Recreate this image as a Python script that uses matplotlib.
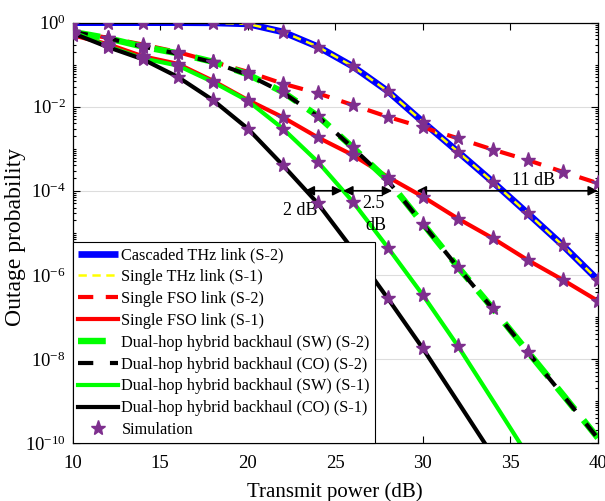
import numpy as np
import matplotlib
matplotlib.use("Agg")
import matplotlib.pyplot as plt
from matplotlib.ticker import FixedLocator, NullFormatter
from matplotlib.lines import Line2D

plt.rcParams['font.family'] = ['Liberation Serif', 'DejaVu Serif']
plt.rcParams['mathtext.fontset'] = 'custom'
plt.rcParams['mathtext.rm'] = 'Liberation Serif'
plt.rcParams['mathtext.it'] = 'Liberation Serif:italic'
plt.rcParams['lines.scale_dashes'] = False

# ---- data (log10 of outage probability) ----
snr = [10, 12, 14, 16, 18, 20, 22, 24, 26, 28, 30, 32, 34, 36, 38, 40]
thz_cascaded_s2 = [0.0, 0.0, 0.0, 0.0, -0.005, -0.03, -0.22, -0.57, -1.04, -1.63, -2.36, -3.07, -3.79, -4.54, -5.30, -6.12]
thz_single_s1 = [0.0, 0.0, 0.0, 0.0, -0.005, -0.03, -0.22, -0.57, -1.04, -1.63, -2.36, -3.07, -3.79, -4.54, -5.30, -6.12]
fso_s2 = [-0.22, -0.36, -0.52, -0.70, -0.93, -1.17, -1.45, -1.68, -1.96, -2.24, -2.49, -2.75, -3.02, -3.27, -3.55, -3.82]
fso_s1 = [-0.30, -0.51, -0.80, -0.98, -1.38, -1.84, -2.25, -2.73, -3.15, -3.67, -4.14, -4.66, -5.13, -5.65, -6.12, -6.62]
dh_sw_s2 = [-0.22, -0.37, -0.57, -0.73, -0.93, -1.23, -1.65, -2.22, -2.97, -3.75, -4.78, -5.81, -6.80, -7.83, -8.85, -9.88]
dh_co_s2 = [-0.22, -0.37, -0.57, -0.74, -0.94, -1.24, -1.66, -2.23, -2.98, -3.76, -4.79, -5.82, -6.81, -7.84, -8.86, -9.89]
dh_sw_s1 = [-0.22, -0.56, -0.85, -1.02, -1.41, -1.86, -2.52, -3.31, -4.26, -5.35, -6.48, -7.69, -8.99, -10.3]
dh_co_s1 = [-0.25, -0.58, -0.87, -1.29, -1.84, -2.52, -3.39, -4.30, -5.40, -6.56, -7.75, -9.02, -10.3]

# number of simulation points (from the start of snr) per curve
sim_count = {'thz': 16, 'fso_s2': 16, 'fso_s1': 16, 'dh_s2': 14, 'dh_sw_s1': 12, 'dh_co_s1': 11}

labels = ['Cascaded THz link (S-2)', 'Single THz link (S-1)', 'Single FSO link (S-2)',
          'Single FSO link (S-1)', 'Dual-hop hybrid backhaul (SW) (S-2)',
          'Dual-hop hybrid backhaul (CO) (S-2)', 'Dual-hop hybrid backhaul (SW) (S-1)',
          'Dual-hop hybrid backhaul (CO) (S-1)', 'Simulation']

purple = '#7E2F8E'

fig = plt.figure(figsize=(6.05, 5.01), dpi=100)
ax = fig.add_axes([0.1202, 0.1158, 0.868, 0.839])

def p(v):
    return 10.0 ** np.asarray(v)

def xs(v):
    return snr[:len(v)]

h = []
h.append(ax.plot(xs(thz_cascaded_s2), p(thz_cascaded_s2), color='#0000FF', lw=4.8, solid_capstyle='butt')[0])
h.append(ax.plot(xs(thz_single_s1), p(thz_single_s1), color='#FFFF00', lw=1.8, dashes=(6, 4))[0])
h.append(ax.plot(xs(fso_s2), p(fso_s2), color='#FF0000', lw=3.0, dashes=(11, 9), dash_capstyle='butt')[0])
h.append(ax.plot(xs(fso_s1), p(fso_s1), color='#FF0000', lw=3.0)[0])
h.append(ax.plot(xs(dh_sw_s2), p(dh_sw_s2), color='#00FF00', lw=4.6, dashes=(20, 10), dash_capstyle='butt')[0])
h.append(ax.plot(xs(dh_co_s2), p(dh_co_s2), color='#000000', lw=3.0, dashes=(11, 12), dash_capstyle='butt')[0])
h.append(ax.plot(xs(dh_sw_s1), p(dh_sw_s1), color='#00FF00', lw=3.0)[0])
h.append(ax.plot(xs(dh_co_s1), p(dh_co_s1), color='#000000', lw=3.0)[0])

msk = dict(ls='none', marker='*', ms=11, color=purple, mec=purple, zorder=5)
ax.plot(snr[:sim_count['thz']], p(thz_cascaded_s2[:sim_count['thz']]), **msk)
ax.plot(snr[:sim_count['fso_s2']], p(fso_s2[:sim_count['fso_s2']]), **msk)
ax.plot(snr[:sim_count['fso_s1']], p(fso_s1[:sim_count['fso_s1']]), **msk)
ax.plot(snr[:sim_count['dh_s2']], p(dh_sw_s2[:sim_count['dh_s2']]), **msk)
ax.plot(snr[:sim_count['dh_sw_s1']], p(dh_sw_s1[:sim_count['dh_sw_s1']]), **msk)
ax.plot(snr[:sim_count['dh_co_s1']], p(dh_co_s1[:sim_count['dh_co_s1']]), **msk)
h.append(Line2D([], [], ls='none', marker='*', ms=11, color=purple, mec=purple))

ax.set_yscale('log')
ax.set_xlim(10, 40)
ax.set_ylim(1e-10, 1)
ax.set_xticks([10, 15, 20, 25, 30, 35, 40])
major = [10.0 ** k for k in range(-10, 1, 2)]
ax.yaxis.set_major_locator(FixedLocator(major))
ax.set_yticklabels([r'$10^{%d}$' % k for k in range(-10, 1, 2)])
minor = [m * 10.0 ** k for k in range(-10, 0) for m in range(1, 10) if not (m == 1 and k % 2 == 0)]
ax.yaxis.set_minor_locator(FixedLocator(minor))
ax.yaxis.set_minor_formatter(NullFormatter())
ax.tick_params(which='both', direction='in', top=True, right=True, labelsize=13.5, width=0.8)
ax.tick_params(which='major', length=5)
ax.tick_params(which='minor', length=2.5)
ax.tick_params(axis='x', which='major', pad=9)
ax.tick_params(axis='y', which='major', pad=5)
ax.grid(True, which='major', axis='y', color='#DDDDDD', lw=0.8)
ax.set_axisbelow(True)
for s in ax.spines.values():
    s.set_linewidth(0.9)

ax.set_xlabel('Transmit power (dB)', fontsize=15)
ax.set_ylabel('Outage probability', fontsize=17)
ax.xaxis.set_label_coords(0.5, -0.094)
ax.yaxis.set_label_coords(-0.089, 0.49)

# annotations
arr = dict(arrowstyle='<|-|>', color='black', lw=1.2, mutation_scale=14, shrinkA=0, shrinkB=0)
ax.annotate('', xy=(23.25, 1e-4), xytext=(25.4, 1e-4), arrowprops=arr)
ax.annotate('', xy=(25.45, 1e-4), xytext=(28.25, 1e-4), arrowprops=arr)
ax.annotate('', xy=(29.65, 1e-4), xytext=(40.0, 1e-4), arrowprops=arr)
ax.text(23.0, 10 ** -4.46, '2 dB', fontsize=13, ha='center', va='center')
ax.text(27.2, 10 ** -4.30, '2.5', fontsize=13, ha='center', va='center')
ax.text(27.3, 10 ** -4.82, 'dB', fontsize=13, ha='center', va='center')
ax.text(36.3, 10 ** -3.75, '11 dB', fontsize=13, ha='center', va='center')

leg = ax.legend(h, labels, loc='lower left', fontsize=11.7, frameon=True, fancybox=False,
                edgecolor='black', framealpha=1, borderpad=0.3, labelspacing=0.36,
                handlelength=2.5, handletextpad=0.2, borderaxespad=0)
leg.get_frame().set_linewidth(0.8)

fig.savefig('out.png', dpi=100)
